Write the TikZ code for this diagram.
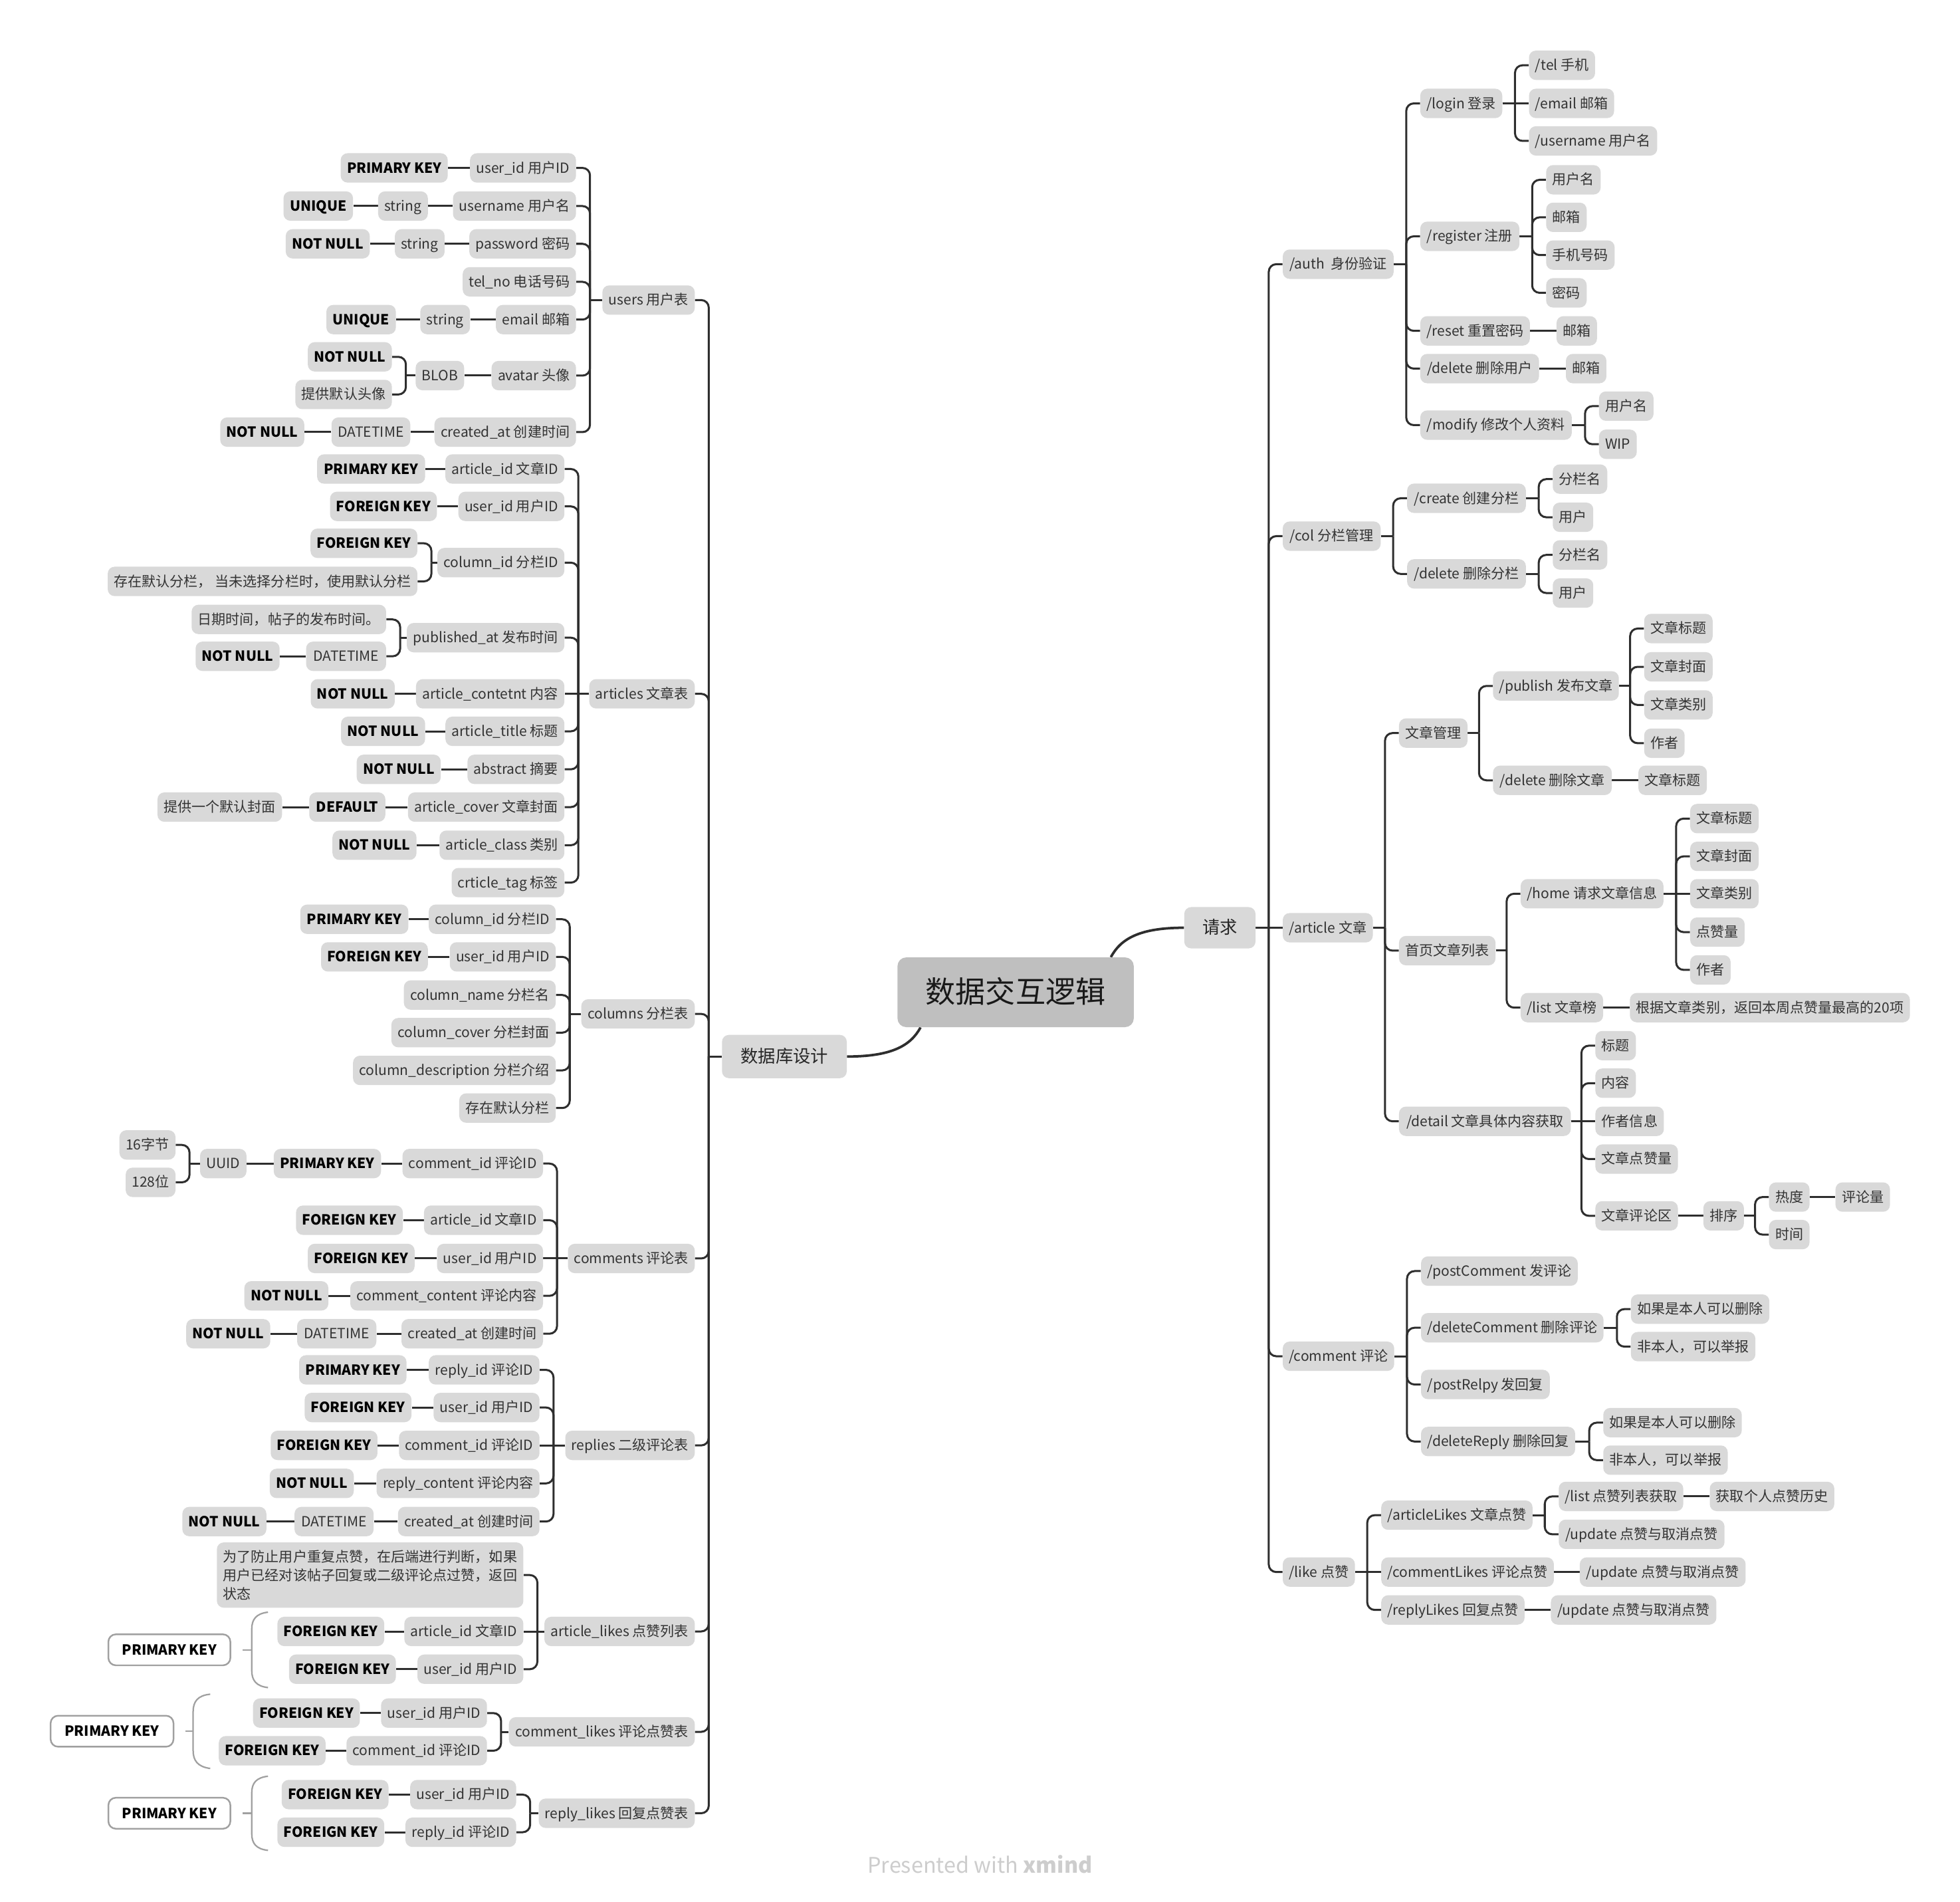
\documentclass[tikz,border=0pt]{standalone}
\usepackage{fontspec}
\setmainfont{Noto Sans CJK SC}
\usetikzlibrary{calc}
\definecolor{nodefill}{HTML}{D9D9D9}
\definecolor{rootfill}{HTML}{BFBFBF}
\definecolor{linec}{HTML}{2E2E2E}
\definecolor{txt}{HTML}{333333}
\definecolor{outl}{HTML}{A0A0A0}
\definecolor{wm}{HTML}{CDCDCD}
\pgfdeclarelayer{bg}
\pgfsetlayers{bg,main}
\tikzset{
  basebox/.style={fill=nodefill, rounded corners=5.5pt, inner xsep=5pt, inner ysep=0pt, text=txt},
  tb/.style={basebox, minimum height=23.5pt, font=\fontsize{11.2}{13}\selectfont, text height=10pt, text depth=2pt},
  kw/.style={font=\fontsize{11.2}{13}\selectfont\bfseries, text=black},
  lvlone/.style={basebox, font=\fontsize{14}{16}\selectfont, minimum height=34pt, text height=12.5pt, text depth=2.5pt, text=black!85},
  rootbox/.style={fill=rootfill, rounded corners=7pt, font=\fontsize{24}{28}\selectfont, minimum width=189pt, minimum height=55.8pt, text=black!90, text height=21pt, text depth=4pt},
  pkbox/.style={draw=outl, line width=1.3pt, fill=white, rounded corners=6pt, font=\fontsize{11.2}{13}\selectfont\bfseries, minimum height=24.8pt, text height=10pt, text depth=2pt, text=black},
  conn/.style={draw=linec, line width=1.6pt},
  brc/.style={draw=outl, line width=1.2pt},
}
\newcommand\boxR[6][]{\node[tb,#1,anchor=west,minimum width={(#4)-(#3)}] (#2) at (#3,-#5) {#6};}
\newcommand\boxL[6][]{\node[tb,#1,anchor=east,minimum width={(#4)-(#3)}] (#2) at (#4,-#5) {#6};}
\newcommand\conR[2]{\begin{pgfonlayer}{bg}\draw[conn] (#1.east) -- ($(#1.east -| #2.west)+(-11,0)$);
  \draw[conn,rounded corners=6pt] ($(#1.east -| #2.west)+(-11,0)$) |- (#2.west);\end{pgfonlayer}}
\newcommand\conL[2]{\begin{pgfonlayer}{bg}\draw[conn] (#1.west) -- ($(#1.west -| #2.east)+(11,0)$);
  \draw[conn,rounded corners=6pt] ($(#1.west -| #2.east)+(11,0)$) |- (#2.east);\end{pgfonlayer}}
\newcommand\strR[2]{\begin{pgfonlayer}{bg}\draw[conn] (#1.east) -- (#2.west);\end{pgfonlayer}}
\newcommand\strL[2]{\begin{pgfonlayer}{bg}\draw[conn] (#1.west) -- (#2.east);\end{pgfonlayer}}
\begin{document}
\begin{tikzpicture}[x=1pt,y=1pt]
\begin{pgfonlayer}{bg}
\fill[white] (0,0) rectangle (1568,-1520.7);
\end{pgfonlayer}
\useasboundingbox (0,0) rectangle (1568,-1520.7);

% ---------- root ----------
\node[rootbox] (root) at (812.5,-793.6) {数据交互逻辑};
\node[lvlone,minimum width=57pt,minimum height=33pt] (req) at (975.9,-742) {请求};
\node[lvlone,minimum width=99.8pt,minimum height=34.6pt] (db) at (627.5,-845) {数据库设计};
\begin{pgfonlayer}{bg}
\draw[conn,line width=2pt] ($(root.north east)+(-18.5,0)$) .. controls ($(root.north east)+(-10.5,15)$) and ($(req.west)+(-35,0)$) .. (req.west);
\draw[conn,line width=2pt] ($(root.south west)+(18.6,0)$) .. controls ($(root.south west)+(10.6,-15)$) and ($(db.east)+(35,0)$) .. (db.east);
\end{pgfonlayer}

% ---------- right: requests ----------
\boxR{auth}{1026}{1114.7}{211.3}{/auth\ \ 身份验证}
\boxR{col}{1026}{1104.3}{428.8}{/col 分栏管理}
\boxR{art}{1026}{1097.4}{742}{/article 文章}
\boxR{cmt}{1026}{1114.8}{1084.7}{/comment 评论}
\boxR{like}{1026}{1083}{1257.3}{/like 点赞}
\conR{req}{auth}\conR{req}{col}\strR{req}{art}\conR{req}{cmt}\conR{req}{like}

\boxR{login}{1136}{1201.6}{82.7}{/login 登录}
\boxR{reg}{1136}{1215.3}{189}{/register 注册}
\boxR{reset}{1136}{1223.7}{264.6}{/reset 重置密码}
\boxR{delu}{1136}{1231}{294.8}{/delete 删除用户}
\boxR{modify}{1136}{1257.2}{340}{/modify 修改个人资料}
\conR{auth}{login}\conR{auth}{reg}\conR{auth}{reset}\conR{auth}{delu}\conR{auth}{modify}

\boxR{tel}{1223}{1275.6}{52.2}{/tel 手机}
\boxR{email}{1223}{1291}{82.7}{/email 邮箱}
\boxR{uname}{1223}{1325}{112.7}{/username 用户名}
\conR{login}{tel}\strR{login}{email}\conR{login}{uname}

\boxR{rg1}{1236.7}{1279}{143.8}{用户名}
\boxR{rg2}{1236.7}{1267.8}{173.8}{邮箱}
\boxR{rg3}{1236.7}{1289.9}{204}{手机号码}
\boxR{rg4}{1236.7}{1267.8}{234.2}{密码}
\conR{reg}{rg1}\conR{reg}{rg2}\conR{reg}{rg3}\conR{reg}{rg4}
\boxR{rs1}{1245}{1276.6}{264.6}{邮箱}
\strR{reset}{rs1}
\boxR{du1}{1252.5}{1283.6}{294.8}{邮箱}
\strR{delu}{du1}
\boxR{md1}{1279}{1321}{324.8}{用户名}
\boxR{md2}{1279}{1308.4}{355.3}{WIP}
\conR{modify}{md1}\conR{modify}{md2}

\boxR{create}{1125.5}{1220.5}{398.5}{/create 创建分栏}
\boxR{cdel}{1125.5}{1220.5}{459}{/delete 删除分栏}
\conR{col}{create}\conR{col}{cdel}
\boxR{cr1}{1242}{1284.7}{383.2}{分栏名}
\boxR{cr2}{1242}{1273}{413.7}{用户}
\conR{create}{cr1}\conR{create}{cr2}
\boxR{cd1}{1242}{1284.7}{443.8}{分栏名}
\boxR{cd2}{1242}{1273}{474.3}{用户}
\conR{cdel}{cd1}\conR{cdel}{cd2}

\boxR{amg}{1119}{1172.8}{586.3}{文章管理}
\boxR{home}{1119}{1195}{760.3}{首页文章列表}
\boxR{detail}{1119}{1256.4}{896.8}{/detail 文章具体内容获取}
\conR{art}{amg}\conR{art}{home}\conR{art}{detail}
\boxR{pub}{1194.2}{1294.1}{548.6}{/publish 发布文章}
\boxR{adel}{1194.2}{1289.2}{624.1}{/delete 删除文章}
\conR{amg}{pub}\conR{amg}{adel}
\boxR{pb1}{1315.1}{1369}{502.7}{文章标题}
\boxR{pb2}{1315.1}{1369}{533.3}{文章封面}
\boxR{pb3}{1315.1}{1369}{563.8}{文章类别}
\boxR{pb4}{1315.1}{1346.3}{594.4}{作者}
\conR{pub}{pb1}\conR{pub}{pb2}\conR{pub}{pb3}\conR{pub}{pb4}
\boxR{ad1}{1310.5}{1364.3}{624.1}{文章标题}
\strR{adel}{ad1}

\boxR{hreq}{1216.3}{1330.3}{714.8}{/home 请求文章信息}
\boxR{hlist}{1216.3}{1282.1}{805.9}{/list 文章榜}
\conR{home}{hreq}\conR{home}{hlist}
\boxR{hr1}{1351.9}{1405.8}{654.7}{文章标题}
\boxR{hr2}{1351.9}{1405.8}{684.9}{文章封面}
\boxR{hr3}{1351.9}{1405.8}{714.8}{文章类别}
\boxR{hr4}{1351.9}{1394.1}{745.5}{点赞量}
\boxR{hr5}{1351.9}{1383.1}{775.7}{作者}
\conR{hreq}{hr1}\conR{hreq}{hr2}\strR{hreq}{hr3}\conR{hreq}{hr4}\conR{hreq}{hr5}
\boxR{hl1}{1303.7}{1527.3}{805.9}{根据文章类别，返回本周点赞量最高的20项}
\strR{hlist}{hl1}

\boxR{dt1}{1276.1}{1307}{836.3}{标题}
\boxR{dt2}{1276.1}{1307}{866.3}{内容}
\boxR{dt3}{1276.1}{1329.3}{896.8}{作者信息}
\boxR{dt4}{1276.1}{1340.9}{927}{文章点赞量}
\boxR{dt5}{1276.1}{1340.9}{972.4}{文章评论区}
\conR{detail}{dt1}\conR{detail}{dt2}\strR{detail}{dt3}\conR{detail}{dt4}\conR{detail}{dt5}
\boxR{sort}{1362.5}{1393.4}{972.4}{排序}
\strR{dt5}{sort}
\boxR{hot}{1415}{1446.3}{957.4}{热度}
\boxR{time}{1415}{1446.3}{987.4}{时间}
\conR{sort}{hot}\conR{sort}{time}
\boxR{cnt}{1468.2}{1509.7}{957.4}{评论量}
\strR{hot}{cnt}

\boxR{pc}{1136.6}{1260.8}{1016.6}{/postComment 发评论}
\boxR{dc}{1136.6}{1282.6}{1061.9}{/deleteComment 删除评论}
\boxR{pr}{1136.6}{1239.6}{1107.3}{/postRelpy 发回复}
\boxR{dr}{1136.6}{1259.9}{1152.9}{/deleteReply 删除回复}
\conR{cmt}{pc}\conR{cmt}{dc}\conR{cmt}{pr}\conR{cmt}{dr}
\boxR{dc1}{1304.5}{1413.4}{1047}{如果是本人可以删除}
\boxR{dc2}{1304.5}{1401.9}{1077}{非本人，可以举报}
\conR{dc}{dc1}\conR{dc}{dc2}
\boxR{dr1}{1282.4}{1391}{1137.8}{如果是本人可以删除}
\boxR{dr2}{1282.4}{1380}{1167.8}{非本人，可以举报}
\conR{dr}{dr1}\conR{dr}{dr2}

\boxR{al}{1104.8}{1225.6}{1211.8}{/articleLikes 文章点赞}
\boxR{cl}{1104.8}{1241.8}{1257.3}{/commentLikes 评论点赞}
\boxR{rl}{1104.8}{1218.7}{1287.6}{/replyLikes 回复点赞}
\conR{like}{al}\strR{like}{cl}\conR{like}{rl}
\boxR{al1}{1246.8}{1345.7}{1196.8}{/list 点赞列表获取}
\boxR{al2}{1246.8}{1379.4}{1227.1}{/update 点赞与取消点赞}
\conR{al}{al1}\conR{al}{al2}
\boxR{al3}{1367.6}{1465.2}{1196.8}{获取个人点赞历史}
\strR{al1}{al3}
\boxR{cl1}{1263.6}{1396.3}{1257.3}{/update 点赞与取消点赞}
\strR{cl}{cl1}
\boxR{rl1}{1240.5}{1372.9}{1287.6}{/update 点赞与取消点赞}
\strR{rl}{rl1}

% ---------- left: database ----------
\boxL{users}{483.2}{556}{240}{users 用户表}
\boxL{arts}{473.5}{556}{554.9}{articles 文章表}
\boxL{cols}{466}{556}{810.9}{columns 分栏表}
\boxL{cmts}{455.8}{556}{1006.5}{comments 评论表}
\boxL{reps}{453.3}{556}{1156}{replies 二级评论表}
\boxL{alk}{440.5}{556}{1304.8}{article\_likes 点赞列表}
\boxL{clk}{411.4}{556}{1385.1}{comment\_likes 评论点赞表}
\boxL{rlk}{435}{556}{1450.2}{reply\_likes 回复点赞表}
\conL{db}{users}\conL{db}{arts}\conL{db}{cols}\conL{db}{cmts}\conL{db}{reps}\conL{db}{alk}\conL{db}{clk}\conL{db}{rlk}

% users
\boxL{u1}{380.9}{461}{134.3}{user\_id 用户ID}
\boxL[kw]{u1a}{273.2}{358.4}{134.3}{PRIMARY KEY}
\boxL{u2}{364.3}{461}{164.8}{username 用户名}
\boxL{u2a}{304.4}{342.5}{164.8}{string}
\boxL[kw]{u2b}{227}{282.6}{164.8}{UNIQUE}
\boxL{u3}{377.7}{461}{195}{password 密码}
\boxL{u3a}{317.9}{355.9}{195}{string}
\boxL[kw]{u3b}{230.2}{296}{195}{NOT NULL}
\boxL{u4}{374.6}{461}{225.4}{tel\_no 电话号码}
\boxL{u5}{398.7}{461}{255.6}{email 邮箱}
\boxL{u5a}{338.8}{376.2}{255.6}{string}
\boxL[kw]{u5b}{261.3}{316.9}{255.6}{UNIQUE}
\boxL{u6}{394}{461}{300.4}{avatar 头像}
\boxL{u6a}{335.6}{371.5}{300.4}{BLOB}
\boxL[kw]{u6b}{247.6}{313.7}{285.4}{NOT NULL}
\boxL{u6c}{238.3}{313.7}{315.5}{提供默认头像}
\boxL{u7}{350.6}{461}{345.6}{created\_at 创建时间}
\boxL{u7a}{265.4}{328.4}{345.6}{DATETIME}
\boxL[kw]{u7b}{177.4}{243.6}{345.6}{NOT NULL}
\conL{users}{u1}\conL{users}{u2}\conL{users}{u3}\conL{users}{u4}\conL{users}{u5}\conL{users}{u6}\conL{users}{u7}
\strL{u1}{u1a}\strL{u2}{u2a}\strL{u2a}{u2b}\strL{u3}{u3a}\strL{u3a}{u3b}
\strL{u5}{u5a}\strL{u5a}{u5b}\strL{u6}{u6a}\conL{u6a}{u6b}\conL{u6a}{u6c}
\strL{u7}{u7a}\strL{u7a}{u7b}

% articles
\boxL{a1}{361.5}{451.7}{375.1}{article\_id 文章ID}
\boxL[kw]{a1a}{253.9}{340.3}{375.1}{PRIMARY KEY}
\boxL{a2}{371.5}{451.7}{405}{user\_id 用户ID}
\boxL[kw]{a2a}{265.4}{349.7}{405}{FOREIGN KEY}
\boxL{a3}{355.3}{451.7}{450}{column\_id 分栏ID}
\boxL[kw]{a3a}{249.8}{334.1}{434.5}{FOREIGN KEY}
\boxL{a3b}{86.6}{334.1}{465}{存在默认分栏， 当未选择分栏时，使用默认分栏}
\boxL{a4}{331}{451.7}{510}{published\_at 发布时间}
\boxL{a4a}{155.3}{309.1}{495.4}{日期时间，帖子的发布时间。}
\boxL{a4b}{245.1}{309.1}{524.9}{DATETIME}
\boxL[kw]{a4c}{157.1}{223.9}{524.9}{NOT NULL}
\boxL{a5}{337.8}{451.7}{554.9}{article\_contetnt 内容}
\boxL[kw]{a5a}{250.1}{316}{554.9}{NOT NULL}
\boxL{a6}{361.5}{451.7}{584.9}{article\_title 标题}
\boxL[kw]{a6a}{273.8}{340.3}{584.9}{NOT NULL}
\boxL{a7}{374.6}{451.7}{615.3}{abstract 摘要}
\boxL[kw]{a7a}{286.6}{352.8}{615.3}{NOT NULL}
\boxL{a8}{330}{451.7}{645.5}{article\_cover 文章封面}
\boxL[kw]{a8a}{247.6}{308.5}{645.5}{DEFAULT}
\boxL{a8b}{128.1}{225.8}{645.5}{提供一个默认封面}
\boxL{a9}{355.3}{451.7}{676}{article\_class 类别}
\boxL[kw]{a9a}{267.6}{333.4}{676}{NOT NULL}
\boxL{a10}{364.7}{451.7}{705.9}{crticle\_tag 标签}
\conL{arts}{a1}\conL{arts}{a2}\conL{arts}{a3}\conL{arts}{a4}\strL{arts}{a5}
\conL{arts}{a6}\conL{arts}{a7}\conL{arts}{a8}\conL{arts}{a9}\conL{arts}{a10}
\strL{a1}{a1a}\strL{a2}{a2a}\conL{a3}{a3a}\conL{a3}{a3b}
\conL{a4}{a4a}\conL{a4}{a4b}\strL{a4b}{a4c}
\strL{a5}{a5a}\strL{a6}{a6a}\strL{a7}{a7a}\strL{a8}{a8a}\strL{a8a}{a8b}\strL{a9}{a9a}

% columns
\boxL{c1}{348.1}{444.8}{735.2}{column\_id 分栏ID}
\boxL[kw]{c1a}{240.4}{326.9}{735.2}{PRIMARY KEY}
\boxL{c2}{363.7}{444.8}{765.3}{user\_id 用户ID}
\boxL[kw]{c2a}{258.3}{342.5}{765.3}{FOREIGN KEY}
\boxL{c3}{327.2}{444.8}{795.8}{column\_name 分栏名}
\boxL{c4}{315.4}{444.8}{825.9}{column\_cover 分栏封面}
\boxL{c5}{287.3}{444.8}{856.1}{column\_description 分栏介绍}
\boxL{c6}{369}{444.8}{886.2}{存在默认分栏}
\conL{cols}{c1}\conL{cols}{c2}\conL{cols}{c3}\conL{cols}{c4}\conL{cols}{c5}\conL{cols}{c6}
\strL{c1}{c1a}\strL{c2}{c2a}

% comments
\boxL{m1}{326.3}{434.6}{930.6}{comment\_id 评论ID}
\boxL[kw]{m1a}{219.2}{305}{930.6}{PRIMARY KEY}
\boxL{m1b}{161.8}{197.4}{930.6}{UUID}
\boxL{m1c}{98.5}{140.6}{915.7}{16字节}
\boxL{m1d}{103.8}{140.6}{945.6}{128位}
\boxL{m2}{344.4}{434.6}{975.9}{article\_id 文章ID}
\boxL[kw]{m2a}{238.3}{322.5}{975.9}{FOREIGN KEY}
\boxL{m3}{353.7}{434.6}{1006.5}{user\_id 用户ID}
\boxL[kw]{m3a}{247.6}{331.9}{1006.5}{FOREIGN KEY}
\boxL{m4}{284.1}{434.6}{1036.4}{comment\_content 评论内容}
\boxL[kw]{m4a}{196.8}{262.9}{1036.4}{NOT NULL}
\boxL{m5}{323.1}{434.6}{1066.7}{created\_at 创建时间}
\boxL{m5a}{237.9}{301.3}{1066.7}{DATETIME}
\boxL[kw]{m5b}{150.6}{216.4}{1066.7}{NOT NULL}
\conL{cmts}{m1}\conL{cmts}{m2}\strL{cmts}{m3}\conL{cmts}{m4}\conL{cmts}{m5}
\strL{m1}{m1a}\strL{m1a}{m1b}\conL{m1b}{m1c}\conL{m1b}{m1d}
\strL{m2}{m2a}\strL{m3}{m3a}\strL{m4}{m4a}\strL{m5}{m5a}\strL{m5a}{m5b}

% replies
\boxL{p1}{347.2}{431.8}{1095.6}{reply\_id 评论ID}
\boxL[kw]{p1a}{239.5}{325.4}{1095.6}{PRIMARY KEY}
\boxL{p2}{351.2}{431.8}{1125.7}{user\_id 用户ID}
\boxL[kw]{p2a}{245.1}{329.4}{1125.7}{FOREIGN KEY}
\boxL{p3}{324.1}{431.8}{1156}{comment\_id 评论ID}
\boxL[kw]{p3a}{218}{302.2}{1156}{FOREIGN KEY}
\boxL{p4}{305}{431.8}{1186.4}{reply\_content 评论内容}
\boxL[kw]{p4a}{217.7}{283.2}{1186.4}{NOT NULL}
\boxL{p5}{321}{431.8}{1216.9}{created\_at 创建时间}
\boxL{p5a}{235.8}{299.1}{1216.9}{DATETIME}
\boxL[kw]{p5b}{147.8}{213.3}{1216.9}{NOT NULL}
\conL{reps}{p1}\conL{reps}{p2}\strL{reps}{p3}\conL{reps}{p4}\conL{reps}{p5}
\strL{p1}{p1a}\strL{p2}{p2a}\strL{p3}{p3a}\strL{p4}{p4a}\strL{p5}{p5a}\strL{p5a}{p5b}

% article_likes
\node[basebox,align=left,anchor=east,minimum width=243.2pt,minimum height=52.2pt,font=\fontsize{11.2}{15}\selectfont] (l0) at (418.9,-1259.7) {为了防止用户重复点赞，在后端进行判断，如果\\用户已经对该帖子回复或二级评论点过赞，返回\\状态};
\boxL{l1}{329.2}{418.9}{1304.8}{article\_id 文章ID}
\boxL[kw]{l1a}{223}{307.6}{1304.8}{FOREIGN KEY}
\boxL{l2}{338.4}{418.9}{1335}{user\_id 用户ID}
\boxL[kw]{l2a}{232.3}{316.9}{1335}{FOREIGN KEY}
\conL{alk}{l0}\strL{alk}{l1}\conL{alk}{l2}
\strL{l1}{l1a}\strL{l2}{l2a}
\node[pkbox,minimum width=97.6pt] (pk1) at (135.5,-1319.5) {PRIMARY KEY};
\draw[brc] (214.4,-1289.4) .. controls (205,-1290.5) and (201.4,-1295) .. (201.4,-1303) -- (201.4,-1336) .. controls (201.4,-1344) and (205,-1348.6) .. (214.4,-1349.7);
\draw[brc] (201.4,-1319.5) -- ($(pk1.east)+(9.3,0)$);

% comment_likes
\boxL{k1}{309.3}{389.8}{1370.1}{user\_id 用户ID}
\boxL[kw]{k1a}{203.8}{288.1}{1370.1}{FOREIGN KEY}
\boxL{k2}{282.6}{389.8}{1400.2}{comment\_id 评论ID}
\boxL[kw]{k2a}{176.4}{260.7}{1400.2}{FOREIGN KEY}
\conL{clk}{k1}\conL{clk}{k2}
\strL{k1}{k1a}\strL{k2}{k2a}
\node[pkbox,minimum width=98.3pt] (pk2) at (89.65,-1384.6) {PRIMARY KEY};
\draw[brc] (168.2,-1355) .. controls (158,-1356) and (154.5,-1361) .. (154.5,-1369) -- (154.5,-1400) .. controls (154.5,-1408) and (158,-1413) .. (168.2,-1414.4);
\draw[brc] (154.5,-1384.6) -- ($(pk2.east)+(8.9,0)$);

% reply_likes
\boxL{q1}{333.3}{413.1}{1435.3}{user\_id 用户ID}
\boxL[kw]{q1a}{227.1}{311}{1435.3}{FOREIGN KEY}
\boxL{q2}{328.9}{413.1}{1465.4}{reply\_id 评论ID}
\boxL[kw]{q2a}{223}{307.6}{1465.4}{FOREIGN KEY}
\conL{rlk}{q1}\conL{rlk}{q2}
\strL{q1}{q1a}\strL{q2}{q2a}
\node[pkbox,minimum width=97.6pt] (pk3) at (135.5,-1450.2) {PRIMARY KEY};
\draw[brc] (214.4,-1420.6) .. controls (205,-1421.7) and (201.4,-1426) .. (201.4,-1434) -- (201.4,-1466.5) .. controls (201.4,-1474.5) and (205,-1478.8) .. (214.4,-1479.9);
\draw[brc] (201.4,-1450.2) -- ($(pk3.east)+(9.3,0)$);

% watermark
\node[text=wm,font=\fontsize{17.2}{20}\selectfont] (wmk) at (784,-1491) {Presented with \textbf{xmind}};
\end{tikzpicture}
\end{document}
